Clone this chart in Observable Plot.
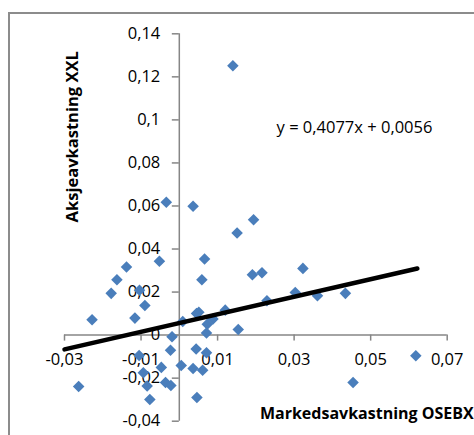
<!DOCTYPE html>
<html>
<head>
<meta charset="utf-8">
<script src="https://cdn.jsdelivr.net/npm/d3@7"></script>
<script src="https://cdn.jsdelivr.net/npm/@observablehq/plot@0.6"></script>
<style>
  html, body { margin: 0; padding: 0; background: #fff; }
  #wrap { position: relative; width: 474px; height: 435px; overflow: hidden; }
  #border { position: absolute; left: 8px; top: 11.5px; width: 500px; height: 500px; border-left: 2px solid #8c8c8c; border-top: 2px solid #8c8c8c; box-sizing: border-box; }
  #chart { position: absolute; left: 0; top: 0; }
  #chart svg { display: block; overflow: visible; background: transparent !important; }
</style>
</head>
<body>
<div id="wrap"><div id="border"></div><div id="chart"></div></div>
<script>
// Market return (OSEBX) vs stock return (XXL)
const marketReturn = [
  0.0140, -0.0034, 0.0036, 0.0194, 0.0151, 0.0066, -0.0052, -0.0138, -0.0163, 0.0059,
  -0.0178, -0.0104, -0.0090, -0.0116, -0.0228, 0.0191, 0.0216, 0.0323, 0.0303, 0.0361,
  0.0434, 0.0229, 0.0120, 0.0051, 0.0045, 0.0009, 0.0154, 0.0073, 0.0088, 0.0071,
  -0.0019, -0.0023, 0.0044, 0.0071, 0.0005, 0.0036, 0.0061, -0.0047, -0.0105, -0.0094,
  -0.0084, -0.0036, -0.0022, -0.0077, 0.0046, -0.0263, 0.0454, 0.0618
];
const stockReturn = [
  0.1252, 0.0617, 0.0599, 0.0536, 0.0474, 0.0354, 0.0343, 0.0316, 0.0257, 0.0257,
  0.0194, 0.0208, 0.0138, 0.0079, 0.0071, 0.0280, 0.0290, 0.0310, 0.0198, 0.0183,
  0.0194, 0.0160, 0.0116, 0.0106, 0.0100, 0.0063, 0.0026, 0.0050, 0.0075, 0.0010,
  -0.0008, -0.0070, -0.0065, -0.0082, -0.0141, -0.0155, -0.0163, -0.0150, -0.0095, -0.0175,
  -0.0236, -0.0220, -0.0234, -0.0299, -0.0290, -0.0239, -0.0220, -0.0096
];
const xTicks = [-0.03, -0.01, 0.01, 0.03, 0.05, 0.07];
const yTicks = [0.14, 0.12, 0.10, 0.08, 0.06, 0.04, 0.02, 0, -0.02, -0.04];
const xDomain = [-0.03, 0.07];
const yDomain = [-0.04, 0.14];
const slope = 0.4077;
const intercept = 0.0056;
const trendX = [-0.03, 0.0622];
const equationLabel = "y = 0,4077x + 0,0056";
const xTitle = "Markedsavkastning OSEBX";
const yTitle = "Aksjeavkastning XXL";

const points = marketReturn.map((x, i) => ({x, y: stockReturn[i]}));
const trend = trendX.map(x => ({x, y: slope * x + intercept}));
const fmt = v => (v === 0 ? "0" : String(+v.toFixed(4)).replace(".", ","));

const axisColor = "#868686";
const font = "'Open Sans', sans-serif";

const chart = Plot.plot({
  width: 474,
  height: 435,
  marginLeft: 64,
  marginRight: 27.3,
  marginTop: 33.3,
  marginBottom: 14.3,
  style: {fontFamily: font, fontSize: "16px", color: "#000", background: "transparent", overflow: "visible"},
  x: {domain: xDomain, axis: null},
  y: {domain: yDomain, axis: null},
  marks: [
    // axis lines
    Plot.ruleY([0], {x1: xDomain[0], x2: xDomain[1], stroke: axisColor, strokeWidth: 1.5}),
    Plot.ruleX([0], {y1: yDomain[0], y2: yDomain[1], stroke: axisColor, strokeWidth: 1.5}),
    // tick marks
    Plot.ruleX(xTicks, {x: d => d, y1: 0, y2: 0, insetBottom: -6, stroke: axisColor, strokeWidth: 1.5}),
    Plot.ruleY(yTicks, {y: d => d, x1: 0, x2: 0, insetLeft: -7, stroke: axisColor, strokeWidth: 1.5}),
    // tick labels
    Plot.text(xTicks, {x: d => d, y: 0, dy: 25, text: fmt, fill: "#000", fontSize: 16.5}),
    Plot.text(yTicks, {x: 0, y: d => d, dx: -19, text: fmt, textAnchor: "end", fill: "#000", fontSize: 16.5}),
    // points
    Plot.dot(points, {x: "x", y: "y", symbol: "diamond2", r: 5.2, fill: "#4a7ebb", stroke: "none"}),
    // trendline
    Plot.line(trend, {x: "x", y: "y", stroke: "#000", strokeWidth: 4.5, strokeLinecap: "round"}),
    // equation
    Plot.text([equationLabel], {frameAnchor: "top-left", dx: 290, dy: 93.5, textAnchor: "middle", lineAnchor: "middle", text: d => d, fill: "#000", fontSize: 16.5}),
    // axis titles
    Plot.text([yTitle], {frameAnchor: "top-left", dx: 8.7, dy: 103, rotate: -90, textAnchor: "middle", lineAnchor: "middle", text: d => d, fill: "#000", fontSize: 16.5, fontWeight: "bold"}),
    Plot.text([xTitle], {frameAnchor: "bottom-right", dx: 26.5, dy: -7.5, textAnchor: "end", lineAnchor: "middle", text: d => d, fill: "#000", fontSize: 16, fontWeight: "bold"})
  ]
});
document.getElementById("chart").appendChild(chart);
</script>
</body>
</html>
